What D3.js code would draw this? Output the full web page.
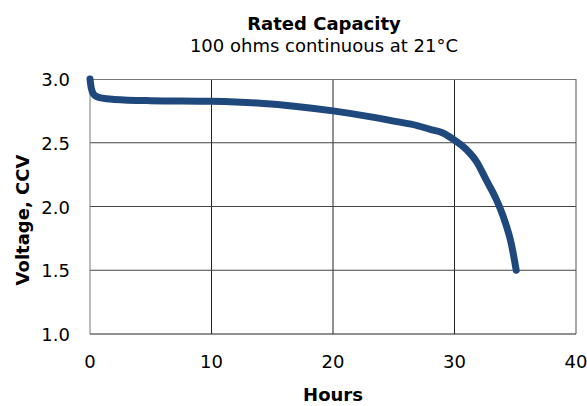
<!DOCTYPE html>
<html>
<head>
<meta charset="utf-8">
<script src="https://cdn.jsdelivr.net/npm/d3@7"></script>
<style>
  body { margin: 0; background: #fff; }
  text { font-family: "DejaVu Sans", Verdana, sans-serif; fill: #000; }
</style>
</head>
<body>
<svg id="chart" width="587" height="406"></svg>
<script>
// --- Data
const hours   = [0, 0.1, 0.3, 0.6, 1, 2, 5, 10, 14, 17, 20, 23, 25, 27, 28, 29, 30, 31, 31.8, 32.6, 33.45, 34.1, 34.67, 35.08];
const voltage = [3.0, 2.93, 2.88, 2.86, 2.85, 2.84, 2.83, 2.825, 2.81, 2.785, 2.75, 2.705, 2.67, 2.633, 2.605, 2.578, 2.52, 2.445, 2.354, 2.21, 2.054, 1.897, 1.71, 1.5];
const xTicks = [0, 10, 20, 30, 40];
const yTicks = [1.0, 1.5, 2.0, 2.5, 3.0];

const svg = d3.select("#chart");
const margin = { top: 79, right: 11, bottom: 72, left: 90 };
const width = 587 - margin.left - margin.right;
const height = 406 - margin.top - margin.bottom;

const x = d3.scaleLinear().domain([0, 40]).range([0, width]);
const y = d3.scaleLinear().domain([1, 3]).range([height, 0]);

const g = svg.append("g").attr("transform", `translate(${margin.left},${margin.top})`);

// --- Grid
g.selectAll(".vgrid")
  .data(xTicks.slice(1, -1))
  .enter()
  .append("line")
  .attr("x1", d => x(d)).attr("x2", d => x(d))
  .attr("y1", 0).attr("y2", height)
  .attr("stroke", "#222").attr("stroke-width", 1);

g.selectAll(".hgrid")
  .data(yTicks.slice(1, -1))
  .enter()
  .append("line")
  .attr("x1", 0).attr("x2", width)
  .attr("y1", d => y(d)).attr("y2", d => y(d))
  .attr("stroke", "#444").attr("stroke-width", 1);

// frame: top/left lighter
g.append("line").attr("x1", 0).attr("x2", width).attr("y1", 0.5).attr("y2", 0.5)
  .attr("stroke", "#777");
g.append("line").attr("x1", width).attr("x2", width).attr("y1", 0).attr("y2", height)
  .attr("stroke", "#555");
g.append("line").attr("x1", 0).attr("x2", width).attr("y1", height).attr("y2", height)
  .attr("stroke", "#222");
g.append("line").attr("x1", 0).attr("x2", 0).attr("y1", 0).attr("y2", height)
  .attr("stroke", "#777");

// --- Tick labels
g.selectAll(".xlab")
  .data(xTicks)
  .enter()
  .append("text")
  .attr("x", d => x(d))
  .attr("y", height + 34)
  .attr("text-anchor", "middle")
  .style("font-size", "18px")
  .text(d => d);

g.selectAll(".ylab")
  .data(yTicks)
  .enter()
  .append("text")
  .attr("x", -20)
  .attr("y", d => y(d) + 7)
  .attr("text-anchor", "end")
  .style("font-size", "18px")
  .text(d => d.toFixed(1));

// --- Curve
const line = d3.line()
  .x((d, i) => x(hours[i]))
  .y(d => y(d))
  .curve(d3.curveMonotoneX);

g.append("path")
  .datum(voltage)
  .attr("d", line)
  .attr("fill", "none")
  .attr("stroke", "#1f497d")
  .attr("stroke-width", 7)
  .attr("stroke-linecap", "round")
  .attr("stroke-linejoin", "round");

// --- Titles
svg.append("text")
  .attr("x", 324).attr("y", 30)
  .attr("text-anchor", "middle")
  .style("font-size", "18px").style("font-weight", "bold")
  .text("Rated Capacity");

svg.append("text")
  .attr("x", 324).attr("y", 52)
  .attr("text-anchor", "middle")
  .style("font-size", "18px")
  .text("100 ohms continuous at 21°C");

svg.append("text")
  .attr("x", margin.left + width / 2).attr("y", 401)
  .attr("text-anchor", "middle")
  .style("font-size", "18px").style("font-weight", "bold")
  .text("Hours");

svg.append("text")
  .attr("transform", "translate(29,220) rotate(-90)")
  .attr("text-anchor", "middle")
  .style("font-size", "18px").style("font-weight", "bold")
  .text("Voltage, CCV");
</script>
</body>
</html>
